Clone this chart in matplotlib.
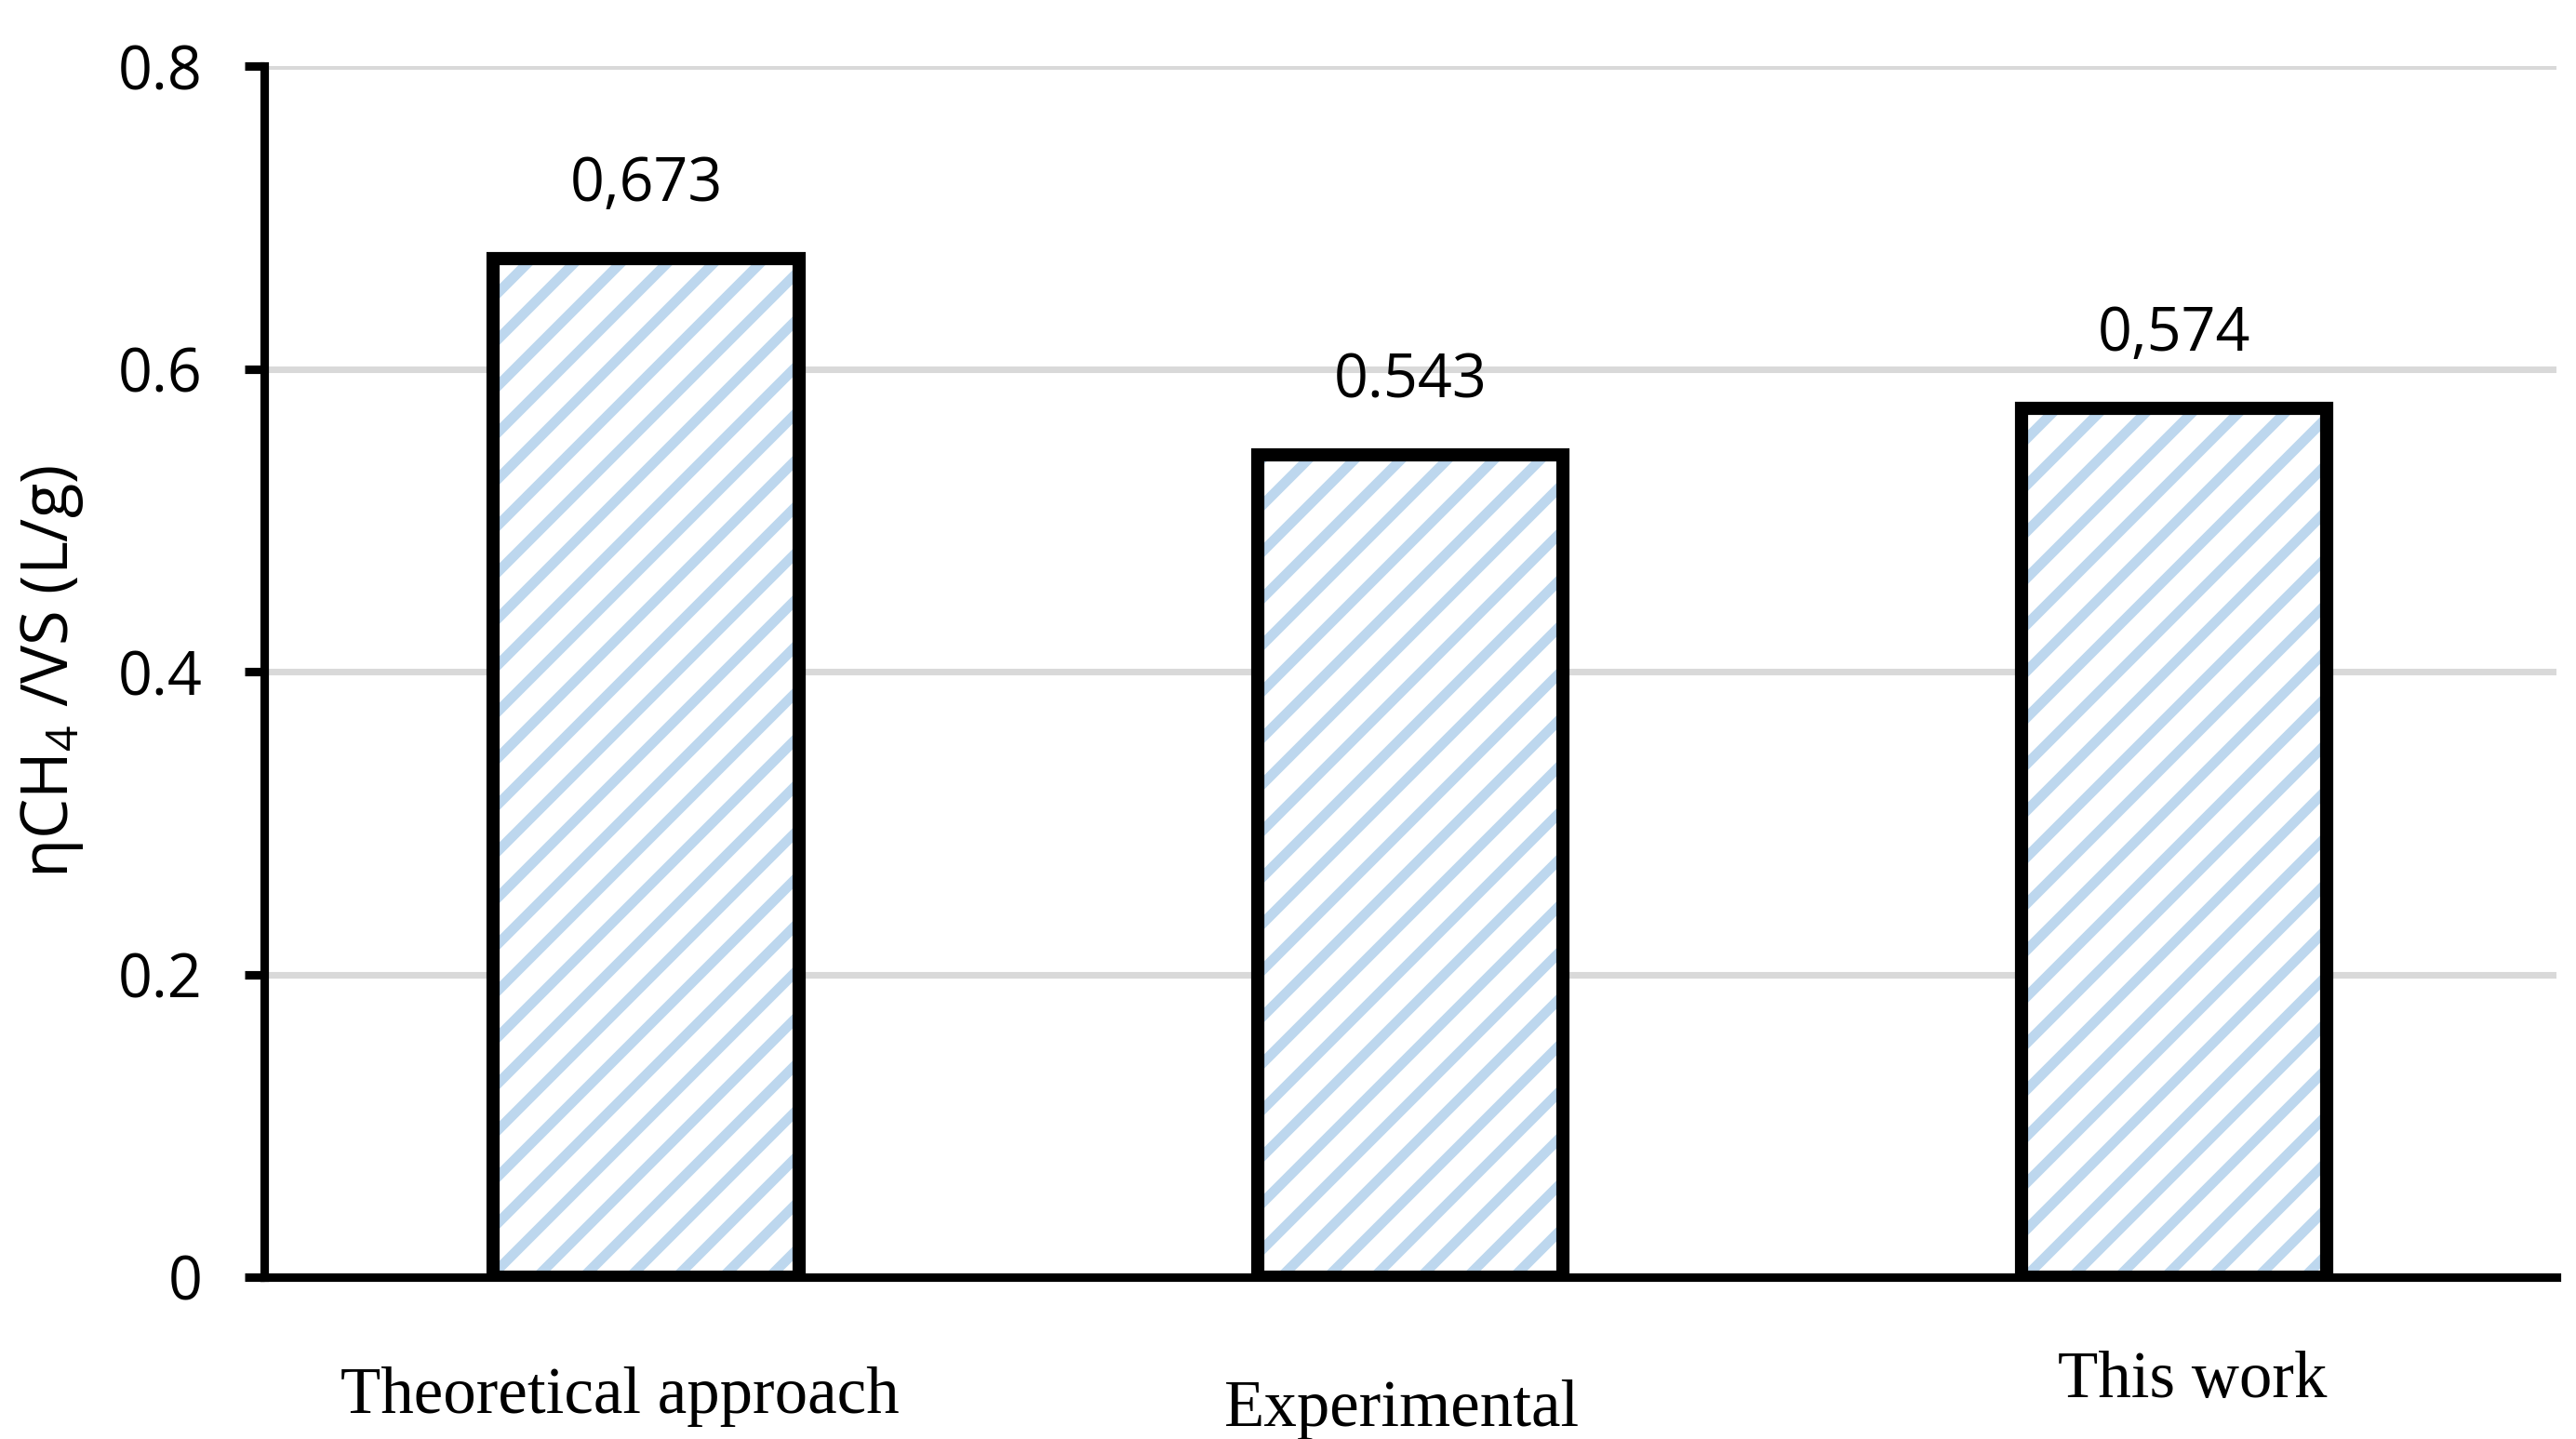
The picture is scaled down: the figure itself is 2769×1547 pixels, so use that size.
import matplotlib
matplotlib.use('Agg')
import matplotlib.pyplot as plt

categories = ['Theoretical approach', 'Experimental', 'This work']
values = [0.673, 0.543, 0.574]
value_labels = ['0,673', '0.543', '0,574']
y_ticks = [0, 0.2, 0.4, 0.6, 0.8]
y_tick_labels = ['0', '0.2', '0.4', '0.6', '0.8']

plt.rcParams['font.family'] = ['Open Sans', 'DejaVu Sans']
plt.rcParams['mathtext.fontset'] = 'custom'
plt.rcParams['mathtext.rm'] = 'Open Sans'
plt.rcParams['mathtext.it'] = 'Open Sans'
plt.rcParams['hatch.linewidth'] = 2.6

fig = plt.figure(figsize=(2769 / 300, 1547 / 300), dpi=300)
ax = fig.add_axes([0.1026, 0.1125, 0.8897, 0.8415])

x = list(range(len(categories)))

# hatch layer then outline layer
ax.bar(x, values, width=0.40, color='white', edgecolor='#bdd7ee', hatch='//', linewidth=0, zorder=2)
ax.bar(x, values, width=0.40, fill=False, edgecolor='black', linewidth=3.4, zorder=3)

for xi, v, lab in zip(x, values, value_labels):
    ax.annotate(lab, xy=(xi, v), xytext=(0, 19), textcoords='offset points',
                ha='center', va='center', fontsize=15.5)

ax.set_xlim(-0.5, 2.5)
ax.set_ylim(0, 0.8)
ax.set_yticks(y_ticks)
ax.set_yticklabels(y_tick_labels, fontsize=15.5)
ax.set_xticks([])

ax.yaxis.grid(True, color='#d9d9d9', linewidth=1.7)
ax.set_axisbelow(True)

for s in ['top', 'right']:
    ax.spines[s].set_visible(False)
for s in ['left', 'bottom']:
    ax.spines[s].set_linewidth(2.2)
ax.tick_params(axis='y', length=5, width=2.2, pad=11)

ax.set_ylabel(r'ηCH$_4$ /VS (L/g)', fontsize=16.5)
ax.yaxis.set_label_coords(-0.078, 0.5)

# category labels, slightly staggered as in the original
offsets = [(-6.8, -35.0), (-2.1, -38.5), (4.7, -31.0)]
for xi, cat, off in zip(x, categories, offsets):
    ax.annotate(cat, xy=(xi, 0), xytext=off, textcoords='offset points',
                ha='center', va='baseline', fontsize=17, family='Liberation Serif')

fig.savefig('out.png', dpi=300)
